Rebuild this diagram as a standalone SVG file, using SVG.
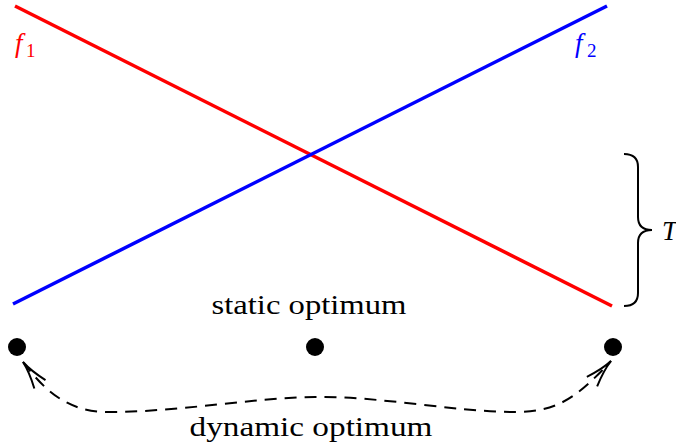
<svg xmlns="http://www.w3.org/2000/svg" width="676" height="448" viewBox="0 0 676 448">
<style>
.txt{font-family:"Liberation Serif","Times New Roman",serif;font-size:28px;fill:#000}
.it{font-family:"Liberation Serif","Times New Roman",serif;font-style:italic;font-size:27px}
.sub{font-family:"Liberation Serif","Times New Roman",serif;font-style:normal;font-size:19px}
.dot{fill:#000}
.conn{fill:none;stroke:#000;stroke-width:2;stroke-dasharray:12 8}
.brace{fill:none;stroke:#000;stroke-width:2}
</style>
<defs>
<marker id="to" markerUnits="userSpaceOnUse" markerWidth="40" markerHeight="40" viewBox="-32 -16 40 32" refX="0" refY="0" orient="auto-start-reverse">
<path d="M-28,-7 Q-12,-1 0,0 Q-12,1 -28,7" fill="none" stroke="#000" stroke-width="2"/>
</marker>
</defs>
<rect width="676" height="448" fill="#fff"/>
<g id="f1-line">
<line x1="15" y1="6" x2="612" y2="306" stroke="#ff0000" stroke-width="3.5"/>
<text class="it" x="15" y="52" fill="#ff0000">f</text>
<text class="sub" x="26" y="57" fill="#ff0000">1</text>
</g>
<g id="f2-line">
<line x1="13" y1="304" x2="607" y2="6" stroke="#0000ff" stroke-width="3.5"/>
<text class="it" x="575" y="52" fill="#0000ff">f</text>
<text class="sub" x="587" y="57" fill="#0000ff">2</text>
</g>
<g id="T-brace">
<path class="brace" d="M624,154 C633,154 638,158 638,167 L638,217 C638,225 642,230 652,230 C642,230 638,235 638,243 L638,293 C638,302 633,306 624,306"/>
<text class="it" x="662" y="240">T</text>
</g>
<g id="left-opt"><circle class="dot" cx="17" cy="347" r="9"/></g>
<g id="static-opt">
<circle class="dot" cx="315" cy="347" r="9"/>
<text class="txt" x="309" y="314" text-anchor="middle" textLength="195" lengthAdjust="spacingAndGlyphs">static optimum</text>
</g>
<g id="right-opt"><circle class="dot" cx="613" cy="347" r="9"/></g>
<g id="connectors">
<path class="conn" marker-start="url(#to)" marker-end="url(#to)" d="M23,362 C45,391 68,412 108,412 C180,412 250,398 315,397 C380,396 455,412 515,412 C555,412 575,400 611,361"/>
<text class="txt" x="311" y="436" text-anchor="middle" textLength="243" lengthAdjust="spacingAndGlyphs">dynamic optimum</text>
</g>
</svg>
